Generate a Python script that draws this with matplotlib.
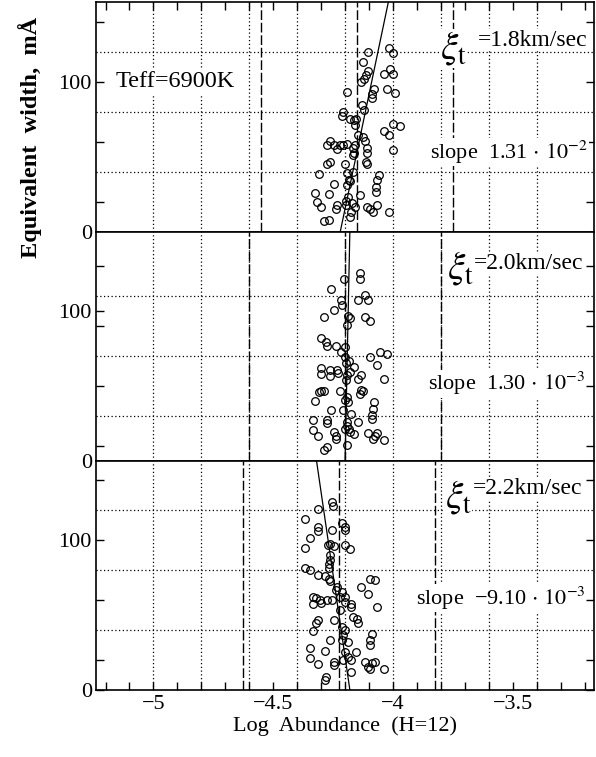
import numpy as np
import matplotlib.pyplot as plt

plt.rcParams['font.family'] = 'serif'
plt.rcParams['font.serif'] = ['Liberation Serif', 'DejaVu Serif']
plt.rcParams['mathtext.fontset'] = 'stix'

# log abundance / equivalent width (mA) of the lines, one set per microturbulence
logA_18 = [-4.015, -4.001, -4.103, -4.126, -4.105, -4.112, -4.119, -4.135, -4.036, -4.001,
           -4.012, -4.026, -3.992, -4.079, -4.089, -4.089, -4.190, -4.128, -4.207, -4.211,
           -4.179, -4.162, -4.158, -4.154, -4.123, -3.998, -3.971, -4.037, -4.015, -4.001,
           -4.147, -4.126, -4.117, -4.276, -4.262, -4.248, -4.232, -4.221, -4.207, -4.190,
           -4.165, -4.157, -4.162, -4.168, -4.107, -4.107, -4.107, -4.112, -4.200, -4.276,
           -4.262, -4.307, -4.190, -4.165, -4.183, -4.190, -4.179, -4.060, -4.068, -4.073,
           -4.071, -4.246, -4.268, -4.326, -4.318, -4.301, -4.235, -4.237, -4.197, -4.186,
           -4.196, -4.171, -4.160, -4.137, -4.107, -4.096, -4.085, -4.068, -4.015, -4.287,
           -4.268, -4.179, -4.176]
ew_18 = [122.4, 119.1, 119.7, 113.1, 106.9, 104.6, 102.0, 99.7, 105.3, 105.3,
         108.6, 94.9, 92.6, 94.9, 92.0, 89.1, 93.1, 84.2, 79.7, 77.1,
         75.3, 74.2, 71.3, 74.9, 80.9, 72.0, 70.2, 66.9, 64.2, 54.2,
         64.6, 63.1, 60.2, 57.5, 60.2, 57.5, 55.3, 58.0, 58.0, 58.6,
         55.7, 57.5, 52.6, 50.9, 55.7, 52.6, 45.3, 46.4, 45.3, 45.3,
         46.4, 38.2, 39.3, 39.7, 34.6, 30.9, 33.5, 37.5, 34.2, 29.8,
         26.4, 32.0, 25.3, 25.7, 19.7, 16.4, 17.5, 15.3, 20.2, 23.1,
         18.0, 19.3, 16.4, 24.6, 16.4, 14.9, 13.1, 17.5, 13.1, 6.9,
         7.5, 9.7, 13.1]

logA_20 = [-4.137, -4.137, -4.204, -4.258, -4.217, -4.212, -4.246, -4.147, -4.117, -4.103,
           -4.287, -4.186, -4.179, -4.190, -4.117, -4.098, -4.301, -4.279, -4.276, -4.237,
           -4.217, -4.200, -4.200, -4.054, -4.026, -4.098, -4.068, -4.037, -4.196, -4.182,
           -4.162, -4.179, -4.301, -4.301, -4.265, -4.265, -4.232, -4.228, -4.193, -4.135,
           -4.144, -4.196, -4.301, -4.290, -4.307, -4.325, -4.223, -4.135, -4.126, -4.137,
           -4.079, -4.085, -4.089, -4.089, -4.190, -4.186, -4.200, -4.260, -4.210, -4.176,
           -4.335, -4.276, -4.276, -4.193, -4.335, -4.315, -4.246, -4.237, -4.237, -4.193,
           -4.182, -4.179, -4.162, -4.144, -4.103, -4.068, -4.075, -4.082, -4.037, -4.276,
           -4.287, -4.193, -4.200]
ew_20 = [125.1, 121.4, 121.4, 114.7, 107.6, 104.0, 100.9, 107.6, 110.7, 107.6,
         95.8, 96.5, 95.1, 90.3, 95.8, 93.6, 81.8, 79.1, 76.9, 76.5,
         72.5, 75.8, 69.1, 72.9, 71.4, 69.1, 63.6, 54.7, 65.4, 66.3,
         62.5, 59.1, 61.8, 58.0, 60.3, 56.9, 60.3, 58.7, 57.4, 57.4,
         54.7, 53.6, 46.3, 46.3, 45.8, 39.8, 46.3, 46.9, 46.3, 44.7,
         39.1, 34.7, 30.3, 28.0, 42.5, 39.1, 40.3, 33.6, 33.6, 31.4,
         27.4, 27.4, 25.4, 25.8, 20.3, 16.5, 19.1, 16.5, 14.3, 23.1,
         21.4, 19.1, 18.0, 25.8, 18.7, 18.7, 16.5, 14.3, 13.6, 9.1,
         6.9, 10.3, 21.4]

logA_22 = [-4.255, -4.251, -4.315, -4.366, -4.311, -4.311, -4.346, -4.255, -4.214, -4.200,
           -4.200, -4.273, -4.262, -4.246, -4.366, -4.200, -4.179, -4.265, -4.265, -4.269,
           -4.268, -4.366, -4.346, -4.315, -4.283, -4.269, -4.262, -4.237, -4.235, -4.214,
           -4.200, -4.096, -4.075, -4.135, -4.103, -4.068, -4.332, -4.321, -4.332, -4.304,
           -4.301, -4.276, -4.255, -4.221, -4.200, -4.176, -4.176, -4.221, -4.315, -4.321,
           -4.335, -4.246, -4.165, -4.151, -4.144, -4.211, -4.200, -4.207, -4.098, -4.096,
           -4.089, -4.265, -4.214, -4.186, -4.346, -4.283, -4.348, -4.311, -4.246, -4.246,
           -4.200, -4.186, -4.176, -4.154, -4.207, -4.176, -4.116, -4.103, -4.089, -4.075,
           -4.096, -4.037, -4.279, -4.283]
ew_22 = [125.5, 122.6, 121.1, 114.4, 108.9, 106.2, 101.7, 107.1, 111.5, 108.9,
         106.6, 96.6, 97.7, 96.0, 95.1, 96.6, 94.4, 90.0, 87.1, 84.4,
         81.7, 81.1, 80.0, 76.6, 76.0, 74.4, 72.9, 66.6, 68.9, 65.5,
         62.2, 74.4, 73.3, 68.9, 64.4, 55.5, 62.2, 61.7, 57.3, 60.4,
         57.8, 60.4, 60.0, 62.2, 58.9, 57.7, 55.5, 53.3, 46.6, 44.4,
         39.5, 46.6, 48.9, 47.1, 44.4, 42.2, 40.0, 36.6, 33.3, 30.0,
         37.7, 33.7, 33.7, 32.2, 27.8, 26.2, 21.1, 17.3, 18.9, 16.6,
         25.5, 22.2, 20.0, 25.5, 20.0, 12.2, 18.9, 15.5, 17.7, 18.9,
         13.7, 13.7, 8.9, 6.6]

vt_labels = ['1.8', '2.0', '2.2']
slope_mant = ['1.31', '1.30', '\u22129.10']
slope_exp = [-2, -3, -3]
intercepts = [-4.22, -4.20, -4.18]     # fitted log A at W = 0
mean_abund = [-4.15, -4.20, -4.225]
scatter_lim = 0.4
grid_w = [[40, 80, 120], [30, 70, 110], [40, 80, 120]]
xtick_vals = [-5, -4.5, -4, -3.5]
xtick_text = ['\u22125', '\u22124.5', '\u22124', '\u22123.5']

panels = [(logA_18, ew_18), (logA_20, ew_20), (logA_22, ew_22)]

# text placement (axes fraction) for each panel
xi_pos = [(0.690, 0.800), (0.705, 0.838), (0.700, 0.840)]
vt_pos = [(0.986, 0.835), (0.978, 0.860), (0.976, 0.877)]
slope_pos = [(0.988, 0.345), (0.982, 0.336), (0.982, 0.400)]

fig = plt.figure(figsize=(5.96, 7.57), dpi=100)
axes = fig.subplots(3, 1, sharex=True)
fig.subplots_adjust(left=0.161, right=0.997, top=0.997, bottom=0.0885, hspace=0)

for i, ax in enumerate(axes):
    logA, ew = panels[i]
    ax.set_xlim(-5.24, -3.16)
    ax.set_ylim(0, 153)

    # dotted grid
    for xv in np.arange(-5.0, -3.39, 0.2):
        ax.axvline(xv, color='k', lw=0.9, ls=(0, (1, 2)), zorder=1)
    for yv in grid_w[i]:
        ax.axhline(yv, color='k', lw=0.9, ls=(0, (1, 2)), zorder=1)

    # mean abundance and +-0.4 dex
    m = mean_abund[i]
    for xv in [m - scatter_lim, m, m + scatter_lim]:
        ax.axvline(xv, color='k', lw=1.0, ls=(0, (7, 2)), zorder=2)

    # trend of abundance with equivalent width
    slope = float(slope_mant[i].replace('\u2212', '-')) * 10.0 ** slope_exp[i]
    w = np.array([0, 153])
    ax.plot(intercepts[i] + slope * w / 10.0, w, color='k', lw=0.9, zorder=3)

    ax.plot(logA, ew, 'o', mfc='none', mec='k', ms=5.5, mew=0.9, zorder=4)

    ax.set_yticks([0, 100])
    g = grid_w[i]
    ax.set_yticks([g[0] - 20] + [v + 20 for v in g], minor=True)
    ax.tick_params(axis='y', which='both', direction='in', left=True, right=True,
                   length=6, width=1, labelsize=16, pad=3)
    ax.set_xticks(xtick_vals)
    ax.set_xticklabels(xtick_text)
    ax.set_xticks(np.arange(-5.2, -3.15, 0.1), minor=True)
    ax.tick_params(axis='x', which='both', direction='in', length=6, width=1,
                   top=(i == 0), bottom=(i == 2), labelbottom=(i == 2), labelsize=16)
    for sp in ax.spines.values():
        sp.set_linewidth(1.2)

    box = dict(facecolor='white', edgecolor='none', pad=0.3)
    ax.text(*vt_pos[i], '=' + vt_labels[i] + 'km/sec', transform=ax.transAxes,
            fontsize=17, ha='right', va='center', bbox=box, zorder=5)
    ax.text(*xi_pos[i], r'$\xi_{\rm t}$', transform=ax.transAxes, fontsize=28,
            ha='left', va='center', bbox=box, zorder=6)
    ax.text(*slope_pos[i], 'slope  ' + slope_mant[i] + r'$\,\cdot\,10^{%d}$' % slope_exp[i],
            transform=ax.transAxes, fontsize=16, ha='right', va='center', bbox=box, zorder=5)

axes[0].text(-5.16, 100, 'Teff=6900K', fontsize=17.5, ha='left', va='center',
             bbox=dict(facecolor='white', edgecolor='none', pad=1), zorder=5)

axes[2].set_xlabel('Log  Abundance  (H=12)', fontsize=16, labelpad=2)
fig.text(0.05, 0.818, 'Equivalent  width,  m\u00c5', rotation=90, fontsize=17.5,
         fontweight='bold', ha='center', va='center')

fig.savefig('out.png', dpi=100)
